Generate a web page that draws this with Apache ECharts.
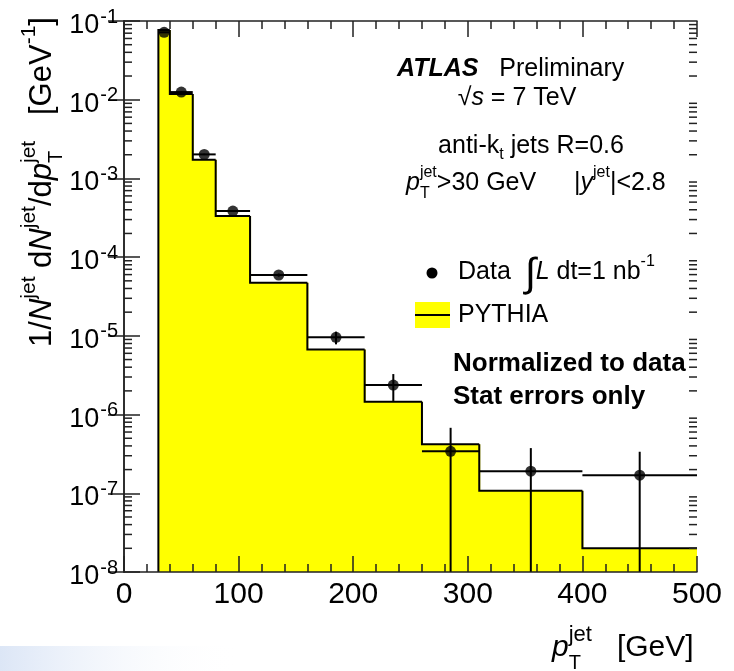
<!DOCTYPE html>
<html>
<head>
<meta charset="utf-8">
<script src="https://cdn.jsdelivr.net/npm/echarts@6/dist/echarts.min.js"></script>
<style>
  html, body { margin: 0; padding: 0; background: #fff; }
  #chart { width: 734px; height: 671px; }
</style>
</head>
<body>
<div id="chart"></div>
<script>
// bin edges of the jet pT spectrum [GeV]
const binEdges = [30, 40, 60, 80, 110, 160, 210, 260, 310, 400, 500];
// PYTHIA histogram (normalized to data)
const pythiaY = [0.0769, 0.0118, 1.73e-3, 3.33e-4, 4.73e-5, 6.73e-6, 1.46e-6, 4.21e-7, 1.08e-7, 2.01e-8];
// data points and stat error band (0 = runs off the bottom of the plot)
const dataY    = [0.0718, 0.0125, 2.02e-3, 3.85e-4, 5.93e-5, 9.57e-6, 2.37e-6, 3.41e-7, 1.91e-7, 1.70e-7];
const dataHigh = [0.0726, 0.0127, 2.06e-3, 3.95e-4, 6.2e-5, 1.13e-5, 3.27e-6, 6.79e-7, 3.75e-7, 3.37e-7];
const dataLow  = [0.0710, 0.0123, 1.98e-3, 3.75e-4, 5.65e-5, 7.8e-6, 1.49e-6, 0, 0, 0];

const X_MIN = 0, X_MAX = 500;
const Y_MIN = 1e-8, Y_MAX = 1e-1;
const FAMILY = '"Liberation Sans", Arial, sans-serif';
const FRAME = '#222';

// minor log ticks 2..9 x 10^k (axis decoration)
const minorY = [];
for (let k = -8; k < -1; k++) {
  for (let m = 2; m <= 9; m++) minorY.push([0, m * Math.pow(10, k)]);
}

const histData = pythiaY.map((v, i) => [binEdges[i], binEdges[i + 1], v, i ? pythiaY[i - 1] : Y_MIN]);
const errData = dataY.map((v, i) => {
  const lo = binEdges[i], hi = binEdges[i + 1];
  return [(lo + hi) / 2, v, lo, hi, dataLow[i], dataHigh[i]];
});
const pointData = errData.map(d => [d[0], d[1]]);

// --- little text layout helper for sub/superscripts ---
const mctx = document.createElement('canvas').getContext('2d');
function fontOf(r, size) {
  return (r.st || 'normal') + ' ' + (r.w || 'normal') + ' ' + (r.size || size) + 'px ' + FAMILY;
}
function runs(list, x, y, opt) {
  opt = opt || {};
  const size = opt.size || 25;
  let cx = 0, prevStart = 0;
  const children = [];
  list.forEach(r => {
    mctx.font = fontOf(r, size);
    const w = mctx.measureText(r.t).width;
    const start = r.stack ? prevStart : cx;
    children.push({
      type: 'text', x: start, y: r.dy || 0,
      style: {
        text: r.t, fill: '#000',
        fontFamily: FAMILY, fontSize: r.size || size,
        fontWeight: r.w || 'normal', fontStyle: r.st || 'normal',
        align: 'left', verticalAlign: 'middle',
        textAlign: 'left', textVerticalAlign: 'middle'
      }
    });
    if (r.stack) cx = Math.max(cx, start + w);
    else { prevStart = start; cx = start + w; }
  });
  const shift = opt.align === 'center' ? -cx / 2 : opt.align === 'right' ? -cx : 0;
  children.forEach(c => { c.x += shift; });
  return { type: 'group', x: x, y: y, rotation: opt.rotation || 0, children: children };
}
const sup = (t, s, dy) => ({ t: t, size: s || 16, dy: dy || -10 });
const sub = (t, s, dy) => ({ t: t, size: s || 16, dy: dy || 11, stack: true });

const chart = echarts.init(document.getElementById('chart'), null, { renderer: 'canvas' });

const axisCommon = {
  axisLine: { show: true, lineStyle: { color: FRAME, width: 1.5 } },
  splitLine: { show: false },
  z: 5
};

const option = {
  animation: false,
  backgroundColor: '#fff',
  grid: { left: 124, top: 21, right: 37, bottom: 99 },
  xAxis: [
    Object.assign({
      type: 'value', min: X_MIN, max: X_MAX, interval: 100, position: 'bottom',
      axisTick: { inside: true, length: 16, lineStyle: { color: FRAME, width: 1.5 } },
      minorTick: { show: true, splitNumber: 5, length: 8, lineStyle: { color: FRAME, width: 1.5 } },
      axisLabel: { color: '#000', fontSize: 30, fontFamily: FAMILY, margin: 8 }
    }, axisCommon),
    Object.assign({
      type: 'value', min: X_MIN, max: X_MAX, interval: 100, position: 'top',
      axisTick: { inside: true, length: 16, lineStyle: { color: FRAME, width: 1.5 } },
      minorTick: { show: true, splitNumber: 5, length: 8, lineStyle: { color: FRAME, width: 1.5 } },
      axisLabel: { show: false }
    }, axisCommon)
  ],
  yAxis: [
    Object.assign({
      type: 'log', logBase: 10, min: Y_MIN, max: Y_MAX, splitNumber: 7, position: 'left',
      axisTick: { inside: true, length: 16, lineStyle: { color: FRAME, width: 1.5 } },
      axisLabel: {
        color: '#000', margin: 6, showMinLabel: true, showMaxLabel: true,
        padding: [8, 0, 0, 0],
        formatter: v => '{b|10}{s|' + Math.round(Math.log10(v)) + '}',
        rich: {
          b: { fontSize: 27, fontFamily: FAMILY, color: '#000', verticalAlign: 'bottom', lineHeight: 28 },
          s: { fontSize: 20, fontFamily: FAMILY, color: '#000', verticalAlign: 'bottom', lineHeight: 20, padding: [0, 0, 12, 1] }
        }
      }
    }, axisCommon),
    Object.assign({
      type: 'log', logBase: 10, min: Y_MIN, max: Y_MAX, splitNumber: 7, position: 'right',
      axisTick: { inside: true, length: 16, lineStyle: { color: FRAME, width: 1.5 } },
      axisLabel: { show: false }
    }, axisCommon)
  ],
  series: [
    {
      name: 'PYTHIA', type: 'custom', z: 1,
      encode: { x: [0, 1], y: 2 },
      data: histData,
      renderItem: (params, api) => {
        const lo = api.value(0), hi = api.value(1), v = api.value(2), prev = api.value(3);
        const tl = api.coord([lo, v]);
        const br = api.coord([hi, Y_MIN]);
        const pp = api.coord([lo, prev]);
        const tr = api.coord([hi, v]);
        // overlap the next bin by 1px so no seam shows in the fill
        const extra = hi < X_MAX ? 1 : 0;
        return {
          type: 'group',
          children: [
            { type: 'rect', shape: { x: tl[0], y: tl[1], width: br[0] - tl[0] + extra, height: br[1] - tl[1] },
              style: { fill: '#ffff00' } },
            { type: 'polyline', shape: { points: [pp, tl, tr] },
              style: { stroke: '#000', lineWidth: 2, fill: null } }
          ]
        };
      }
    },
    {
      name: 'minor', type: 'custom', z: 6, silent: true,
      encode: { x: 0, y: 1 },
      data: minorY,
      renderItem: (params, api) => {
        const v = api.value(1);
        const l = api.coord([X_MIN, v]), r = api.coord([X_MAX, v]);
        const st = { stroke: FRAME, lineWidth: 1.5 };
        return {
          type: 'group',
          children: [
            { type: 'line', shape: { x1: l[0], y1: l[1], x2: l[0] + 8, y2: l[1] }, style: st },
            { type: 'line', shape: { x1: r[0] - 8, y1: r[1], x2: r[0], y2: r[1] }, style: st }
          ]
        };
      }
    },
    {
      name: 'errors', type: 'custom', z: 3,
      encode: { x: 0, y: 1 },
      data: errData,
      renderItem: (params, api) => {
        const x = api.value(0), y = api.value(1);
        const xl = api.value(2), xh = api.value(3);
        const yl = Math.max(api.value(4) || Y_MIN, Y_MIN), yh = api.value(5);
        const a = api.coord([xl, y]), b = api.coord([xh, y]);
        const c = api.coord([x, yl]), d = api.coord([x, yh]);
        const st = { stroke: '#000', lineWidth: 2 };
        return {
          type: 'group',
          children: [
            { type: 'line', shape: { x1: a[0], y1: a[1], x2: b[0], y2: b[1] }, style: st },
            { type: 'line', shape: { x1: c[0], y1: c[1], x2: d[0], y2: d[1] }, style: st }
          ]
        };
      }
    },
    {
      name: 'Data', type: 'scatter', z: 4,
      symbol: 'circle', symbolSize: 11,
      itemStyle: { color: '#000' },
      data: pointData
    }
  ],
  graphic: [
    // faint slide shading in the lower left corner
    { type: 'rect', left: 0, top: 646, z: -10, shape: { width: 240, height: 25 },
      style: { fill: new echarts.graphic.LinearGradient(0, 0, 1, 0, [
        { offset: 0, color: 'rgba(220,230,246,1)' },
        { offset: 1, color: 'rgba(255,255,255,0)' }
      ]) } },

    runs([{ t: 'ATLAS', w: 'bold', st: 'italic' }, { t: '   Preliminary' }], 397, 69),
    runs([{ t: '√' }, { t: 's', st: 'italic' }, { t: ' = 7 TeV' }], 517, 98, { align: 'center' }),
    runs([{ t: 'anti-k' }, { t: 't', size: 16, dy: 9 }, { t: ' jets R=0.6' }], 531, 146, { align: 'center' }),
    runs([{ t: 'p', st: 'italic' }, sup('jet'), sub('T'), { t: '>30 GeV' }], 406, 183),
    runs([{ t: '|' }, { t: 'y', st: 'italic' }, sup('jet'), { t: '|<2.8' }], 574, 183),

    // legend
    { type: 'circle', shape: { cx: 432, cy: 273, r: 5.5 }, style: { fill: '#000' } },
    runs([{ t: 'Data  ' }, { t: '∫', size: 40, dy: 3 }, { t: 'L', st: 'italic' }, { t: ' dt=1 nb' }, sup('-1')], 458, 272),
    { type: 'rect', shape: { x: 415, y: 302, width: 35, height: 26 }, style: { fill: '#ffff00' } },
    { type: 'line', shape: { x1: 415, y1: 315, x2: 450, y2: 315 }, style: { stroke: '#000', lineWidth: 2 } },
    runs([{ t: 'PYTHIA' }], 458, 315),

    runs([{ t: 'Normalized to data', w: 'bold' }], 453, 364, { size: 26 }),
    runs([{ t: 'Stat errors only', w: 'bold' }], 453, 397, { size: 26 }),

    // axis titles
    runs([{ t: 'p', st: 'italic' }, sup('jet', 22, -13), sub('T', 20, 15), { t: '   [GeV]' }],
      552, 648, { size: 30 }),
    runs([
      { t: '1/' }, { t: 'N', st: 'italic' }, sup('jet', 21, -13),
      { t: ' d' }, { t: 'N', st: 'italic' }, sup('jet', 21, -13),
      { t: '/d' }, { t: 'p', st: 'italic' }, sup('jet', 21, -13), sub('T', 20, 14),
      { t: '   [GeV' }, sup('-1', 21, -13), { t: ']' }
    ], 42, 182, { size: 31, align: 'center', rotation: Math.PI / 2 })
  ]
};

chart.setOption(option);
window.addEventListener('resize', () => chart.resize());
</script>
</body>
</html>
